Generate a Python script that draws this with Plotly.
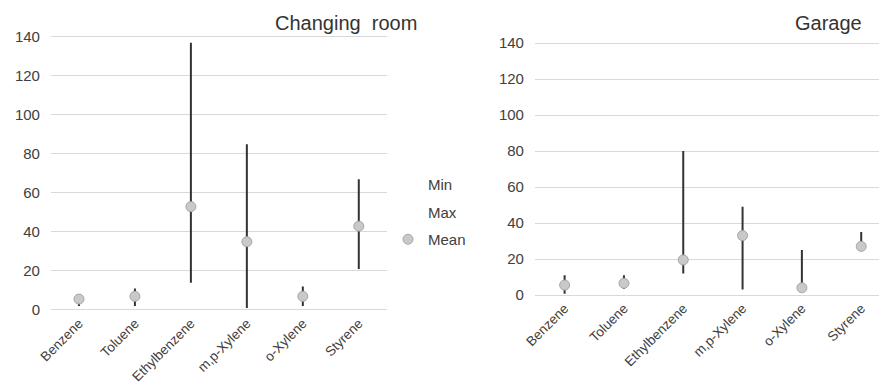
import plotly.graph_objects as go

categories = ["Benzene", "Toluene", "Ethylbenzene", "m,p-Xylene", "o-Xylene", "Styrene"]

# Changing room
cr_min = [2, 2, 14, 1, 2, 21]
cr_max = [6.5, 11, 137, 85, 12, 67]
cr_mean = [5.6, 7, 53, 35, 7, 43]

# Garage
g_min = [0.7, 3.3, 12, 3, 3, 26]
g_max = [11, 11, 80, 49, 25, 35]
g_mean = [5.5, 6.5, 19.5, 33, 4, 27]

y_ticks = [0, 20, 40, 60, 80, 100, 120, 140]

FONT = "Liberation Sans, Arial, sans-serif"
TXT = "#404040"
LINE = "#333333"
GRID = "#d9d9d9"

fig = go.Figure()


def add_panel(mins, maxs, means, xa, ya, show):
    span = [hi - lo for lo, hi in zip(mins, maxs)]
    fig.add_trace(go.Scatter(
        x=categories, y=mins, name="Min", mode="lines",
        line=dict(color="rgba(0,0,0,0)", width=1),
        error_y=dict(type="data", symmetric=False, array=span,
                     arrayminus=[0] * len(mins), color=LINE,
                     thickness=2, width=0),
        xaxis=xa, yaxis=ya, showlegend=show, legendgroup="min",
        hoverinfo="skip", cliponaxis=False))
    fig.add_trace(go.Scatter(
        x=categories, y=maxs, name="Max", mode="lines",
        line=dict(color="rgba(0,0,0,0)", width=1),
        xaxis=xa, yaxis=ya, showlegend=show, legendgroup="max",
        hoverinfo="skip"))
    fig.add_trace(go.Scatter(
        x=categories, y=means, name="Mean", mode="markers",
        marker=dict(size=10, color="#c9c9c9",
                    line=dict(color="#a6a6a6", width=1)),
        xaxis=xa, yaxis=ya, showlegend=show, legendgroup="mean",
        cliponaxis=False))


add_panel(cr_min, cr_max, cr_mean, "x", "y", True)
add_panel(g_min, g_max, g_mean, "x2", "y2", False)

y_font = dict(family=FONT, size=15, color=TXT)
x_font = dict(family=FONT, size=13.5, color=TXT)

fig.update_layout(
    width=879, height=389,
    margin=dict(l=0, r=0, t=0, b=0, autoexpand=False),
    paper_bgcolor="white", plot_bgcolor="white",
    font=dict(family=FONT, color=TXT),
    xaxis=dict(domain=[0.058, 0.440], type="category", range=[-0.5, 5.5],
               tickangle=-45, showgrid=False, zeroline=False, showline=False,
               ticks="", tickfont=x_font, anchor="y", automargin=False),
    yaxis=dict(domain=[0.1981, 0.920], range=[-1, 143], tickvals=y_ticks,
               gridcolor=GRID, gridwidth=1, zeroline=False, showline=False,
               ticks="", tickfont=y_font, ticklabelstandoff=10, anchor="x",
               automargin=False),
    xaxis2=dict(domain=[0.6086, 1.0], type="category", range=[-0.5, 5.3],
                tickangle=-45, showgrid=False, zeroline=False, showline=False,
                ticks="", tickfont=x_font, anchor="y2", automargin=False),
    yaxis2=dict(domain=[0.2370, 0.9033], range=[-1, 143], tickvals=y_ticks,
                gridcolor=GRID, gridwidth=1, zeroline=False, showline=False,
                ticks="", tickfont=y_font, ticklabelstandoff=10, anchor="x2",
                automargin=False),
    legend=dict(x=388 / 879, y=(389 - 168) / 389, xanchor="left", yanchor="top",
                font=dict(family=FONT, size=15, color=TXT),
                traceorder="grouped", tracegroupgap=5,
                bgcolor="rgba(0,0,0,0)"),
    showlegend=True,
    annotations=[
        dict(text="Changing\u00a0 room", x=346 / 879, y=(389 - 23) / 389,
             xref="paper", yref="paper", xanchor="center", yanchor="middle",
             showarrow=False, font=dict(family=FONT, size=20, color="#333333")),
        dict(text="Garage", x=828 / 879, y=(389 - 23) / 389,
             xref="paper", yref="paper", xanchor="center", yanchor="middle",
             showarrow=False, font=dict(family=FONT, size=20, color="#333333")),
    ],
)

fig.write_html("out.html")
